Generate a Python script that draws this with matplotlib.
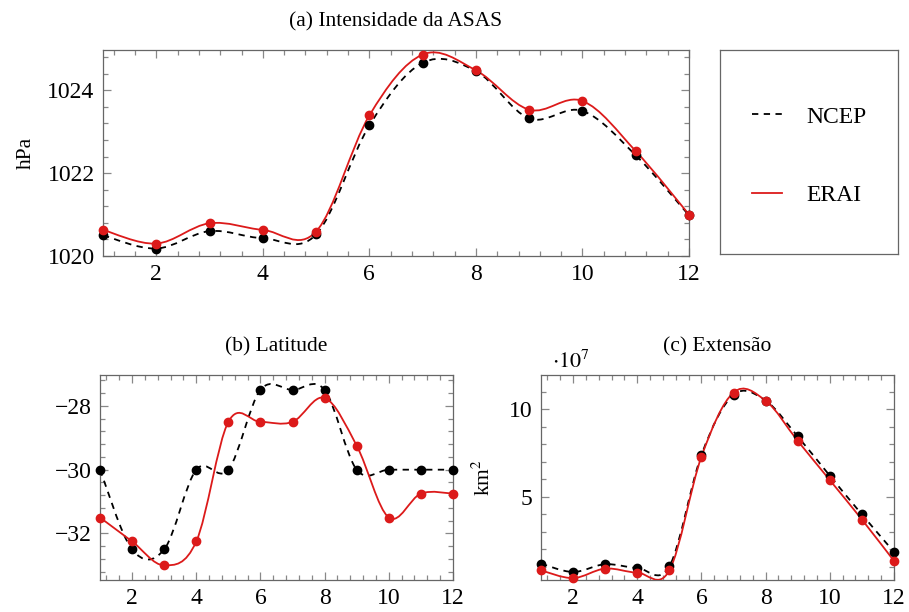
import numpy as np
import matplotlib
matplotlib.use("Agg")
import matplotlib.pyplot as plt
from matplotlib.path import Path
from matplotlib.patches import PathPatch
from matplotlib.lines import Line2D
from matplotlib.ticker import MultipleLocator

plt.rcParams['font.family'] = ['Liberation Serif', 'DejaVu Serif']
plt.rcParams['mathtext.fontset'] = 'stix'
plt.rcParams['font.size'] = 17

# meses
months = np.arange(1, 13)

# (a) intensidade da ASAS (hPa)
press_ncep = [1020.5, 1020.18, 1020.6, 1020.43, 1020.52, 1023.15,
              1024.66, 1024.46, 1023.32, 1023.5, 1022.43, 1020.98]
press_erai = [1020.63, 1020.3, 1020.79, 1020.63, 1020.59, 1023.39,
              1024.86, 1024.48, 1023.53, 1023.74, 1022.53, 1021.0]

# (b) latitude
lat_ncep = [-30, -32.5, -32.5, -30, -30, -27.5,
            -27.5, -27.5, -30, -30, -30, -30]
lat_erai = [-31.5, -32.25, -33.0, -32.25, -28.5, -28.5,
            -28.5, -27.75, -29.25, -31.5, -30.75, -30.75]

# (c) extensao (km^2, em unidades de 1e7)
ext_ncep = [1.18, 0.71, 1.15, 0.94, 1.03, 7.39,
            10.82, 10.48, 8.44, 6.2, 3.99, 1.85]
ext_erai = [0.8, 0.36, 0.9, 0.67, 0.8, 7.29,
            10.95, 10.48, 8.19, 5.95, 3.7, 1.34]

RED = '#dc1a1a'
FRAME = '#666666'
TICKC = '#888888'
TITLE_FS = 15.5


def smooth_path(x, y, f=0.17):
    # curva suave tipo "smooth" do pgfplots (bezier cardinal)
    pts = np.column_stack([x, y]).astype(float)
    n = len(pts)
    verts = [pts[0]]
    codes = [Path.MOVETO]
    for i in range(n - 1):
        p0, p1 = pts[i], pts[i + 1]
        prev = pts[i - 1] if i > 0 else pts[i]
        nxt = pts[i + 2] if i + 2 < n else pts[i + 1]
        verts += [p0 + f * (p1 - prev), p1 - f * (nxt - p0), p1]
        codes += [Path.CURVE4] * 3
    return Path(verts, codes)


def draw_series(ax, y_ncep, y_erai):
    ax.add_patch(PathPatch(smooth_path(months, y_ncep), fill=False,
                           edgecolor='black', lw=1.3, ls=(0, (3.5, 3)), zorder=3))
    ax.add_patch(PathPatch(smooth_path(months, y_erai), fill=False,
                           edgecolor=RED, lw=1.3, zorder=4))
    ax.plot(months, y_ncep, 'o', color='black', ms=6, zorder=5, clip_on=False)
    ax.plot(months, y_erai, 'o', color=RED, ms=6, zorder=6, clip_on=False)


def style_axis(ax, ymajor):
    for s in ax.spines.values():
        s.set_color(FRAME)
        s.set_linewidth(0.9)
    ax.xaxis.set_major_locator(MultipleLocator(2))
    ax.xaxis.set_minor_locator(MultipleLocator(0.4))
    ax.yaxis.set_major_locator(MultipleLocator(ymajor))
    ax.yaxis.set_minor_locator(MultipleLocator(ymajor / 5))
    ax.tick_params(which='both', direction='in', top=True, right=True,
                   color=TICKC, width=0.9)
    ax.tick_params(which='major', length=6, pad=6)
    ax.tick_params(which='minor', length=3.5)
    ax.set_xlim(1, 12)


fig = plt.figure(figsize=(9.09, 6.12), dpi=100)

ax_a = fig.add_axes([103 / 909, 1 - 256 / 612, 586 / 909, 206 / 612])
ax_b = fig.add_axes([100 / 909, 1 - 580 / 612, 353 / 909, 205 / 612])
ax_c = fig.add_axes([541 / 909, 1 - 580 / 612, 353 / 909, 205 / 612])
ax_leg = fig.add_axes([720 / 909, 1 - 254 / 612, 178 / 909, 204 / 612])

# (a)
draw_series(ax_a, press_ncep, press_erai)
style_axis(ax_a, 2)
ax_a.set_ylim(1020, 1024.97)
ax_a.set_title('(a) Intensidade da ASAS', pad=17, fontsize=TITLE_FS)
ax_a.set_ylabel('hPa', fontsize=TITLE_FS)
ax_a.yaxis.set_label_coords(-0.115, 0.5)

# (b)
draw_series(ax_b, lat_ncep, lat_erai)
style_axis(ax_b, 2)
ax_b.set_ylim(-33.46, -27.03)
ax_b.set_yticks([-32, -30, -28])
ax_b.set_yticklabels(['\u221232', '\u221230', '\u221228'])
ax_b.set_title('(b) Latitude', pad=17, fontsize=TITLE_FS)

# (c)
draw_series(ax_c, ext_ncep, ext_erai)
style_axis(ax_c, 5)
ax_c.set_ylim(0.25, 11.95)
ax_c.set_title('(c) Extensão', pad=17, fontsize=TITLE_FS)
ax_c.set_ylabel('km$^2$', fontsize=TITLE_FS)
ax_c.yaxis.set_label_coords(-0.13, 0.5)
ax_c.text(0.03, 1.035, r'$\cdot 10^7$', transform=ax_c.transAxes,
          ha='left', va='baseline', fontsize=16)

# legenda
ax_leg.set_xticks([])
ax_leg.set_yticks([])
for s in ax_leg.spines.values():
    s.set_color(FRAME)
    s.set_linewidth(0.9)
handles = [Line2D([], [], color='black', lw=1.3, ls=(0, (3.5, 3))),
           Line2D([], [], color=RED, lw=1.3)]
ax_leg.legend(handles, ['NCEP', 'ERAI'], loc='center',
              bbox_to_anchor=(0.5, 0.48), frameon=False,
              handlelength=1.3, handletextpad=1.0, labelspacing=2.4,
              fontsize=17)

fig.savefig('out.png', dpi=100)
